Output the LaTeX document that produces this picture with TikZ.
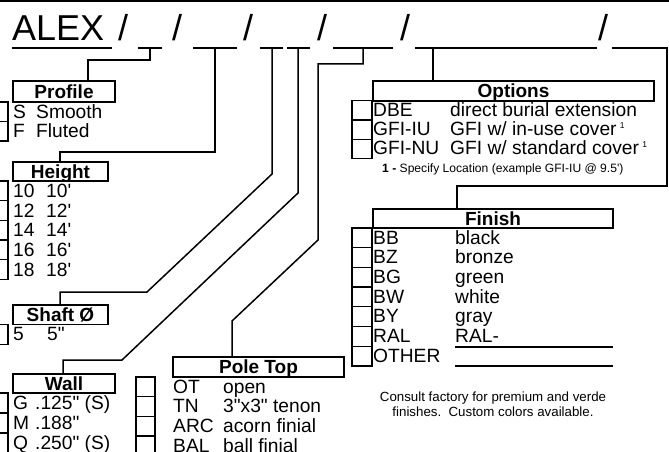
\documentclass[tikz,border=0pt]{standalone}
\usepackage{fontspec}
\setmainfont{Liberation Sans}
\newcommand\ftq{\textquotesingle}
\newcommand\inq{\textquotedbl}
\begin{document}
\begin{tikzpicture}[x=1pt,y=-1pt,
  ln/.style={line width=1.5pt},
  cb/.style={draw,line width=1.3pt,minimum width=20pt,minimum height=19.7pt,inner sep=0pt,outer sep=0pt,anchor=north west},
  hd/.style={draw,line width=1.4pt,inner sep=0pt,outer sep=0pt,anchor=north west,text height=13.6pt,text depth=0pt,font=\fontsize{19}{19}\selectfont\bfseries},
  tx/.style={inner sep=0pt,anchor=base west,font=\fontsize{19.2}{19.2}\selectfont},
  ttl/.style={inner sep=0pt,anchor=base,font=\fontsize{36}{36}\selectfont},
  sm/.style={inner sep=0pt,anchor=base,font=\fontsize{13.3}{13.3}\selectfont},
]
\useasboundingbox (0,0) rectangle (669,452);
\clip (0,0) rectangle (669,452);
\fill[white] (0,0) rectangle (669,452);
% top rule
\draw[line width=1.6pt] (0,0.8) -- (669,0.8);

% title
\node[ttl,anchor=base west] (alex) at (12,41) {ALEX};
\node[ttl] (s1) at (123,41) {/};
\node[ttl] (s2) at (177,41) {/};
\node[ttl] (s3) at (248,41) {/};
\node[ttl] (s4) at (322,41) {/};
\node[ttl] (s5) at (405,41) {/};
\node[ttl] (s6) at (603,41) {/};

% underline segments
\coordinate (u1) at (150,48);
\coordinate (u2) at (215,48);
\coordinate (u3) at (272,48);
\coordinate (u4) at (298,48);
\coordinate (u5) at (363,48);
\coordinate (u6) at (433,48);
\coordinate (u7) at (667,48);
\draw[ln] (12,48) -- (112,48);
\draw[ln] (138,48) -- (162,48);
\draw[ln] (193,48) -- (237,48);
\draw[ln] (260,48) -- (283,48);
\draw[ln] (287,48) -- (310,48);
\draw[ln] (333,48) -- (393,48);
\draw[ln] (415,48) -- (597,48);

% header boxes
\node[hd,minimum width=102pt,minimum height=21pt] (profile) at (13,81) {Profile};
\node[hd,minimum width=95pt,minimum height=19pt] (height) at (13,162) {Height};
\node[hd,minimum width=95pt,minimum height=19.5pt] (shaft) at (13,305) {Shaft Ø};
\node[hd,minimum width=102pt,minimum height=19pt] (wall) at (13,374) {Wall};
\node[hd,minimum width=171pt,minimum height=20pt] (poletop) at (173,357) {Pole Top};
\node[hd,minimum width=281pt,minimum height=20pt] (options) at (373,81) {Options};
\node[hd,minimum width=240pt,minimum height=19pt] (finish) at (373,209) {Finish};

% connectors
\draw[ln] (u1) -- (150,60) -| ([xshift=75pt]profile.north west);
\draw[ln] (u2) -- (215,152) -| ([xshift=47pt]height.north west);
\draw[ln] (u3) -- (272,174) -- (147,292) -| ([xshift=47pt]shaft.north west);
\draw[ln] (u4) -- (298,193) -- (122,360) -| ([xshift=50pt]wall.north west);
\draw[ln] (u5) -- (363,64) -- (318,64) -- (318,240) -- (232,321) -- ([xshift=59pt]poletop.north west);
\draw[ln] (u6) -- ([xshift=60pt]options.north west);
\draw[ln] (612,48) -- (u7) -- (667,186) -| ([xshift=84pt]finish.north west);

% Profile
\foreach \i in {1,2} \node[cb,minimum height=19.5pt] (pcb\i) at (-12,{102+19.5*(\i-1)}) {};
\node[tx] (pc1) at (13,118) {S};
\node[tx] (pd1) at (36,118) {Smooth};
\node[tx] (pc2) at (13,137) {F};
\node[tx] (pd2) at (36,137) {Fluted};

% Height
\foreach \i in {1,...,5} \node[cb] (hcb\i) at (-12,{181+19.7*(\i-1)}) {};
\foreach \c [count=\i] in {10,12,14,16,18} {
  \node[tx] (hc\i) at (13,{197.3+19.7*(\i-1)}) {\c};
  \node[tx] (hd\i) at (46,{197.3+19.7*(\i-1)}) {\c\ftq};
}

% Shaft
\node[cb,minimum height=20pt] (scb1) at (-12,324.5) {};
\node[tx] (sc1) at (13,340.5) {5};
\node[tx] (sd1) at (47,340.5) {5\inq};

% Wall
\foreach \i in {1,...,4} \node[cb,minimum height=20pt] (wcb\i) at (-12,{393+20*(\i-1)}) {};
\node[tx] (wc1) at (13,409) {G};
\node[tx] (wd1) at (35,409) {.125\inq{} (S)};
\node[tx] (wc2) at (13,429) {M};
\node[tx] (wd2) at (35,429) {.188\inq};
\node[tx] (wc3) at (13,449) {Q};
\node[tx] (wd3) at (35,449) {.250\inq{} (S)};

% Pole Top
\foreach \i in {1,...,5} \node[cb,minimum width=19pt] (tcb\i) at (136,{377+19.7*(\i-1)}) {};
\node[tx] (tc1) at (173,393) {OT};
\node[tx] (td1) at (223,393) {open};
\node[tx] (tc2) at (173,412.7) {TN};
\node[tx] (td2) at (223,412.7) {3\inq x3\inq{} tenon};
\node[tx] (tc3) at (173,432.4) {ARC};
\node[tx] (td3) at (223,432.4) {acorn finial};
\node[tx] (tc4) at (173,452.1) {BAL};
\node[tx] (td4) at (223,452.1) {ball finial};

% Options
\foreach \i in {1,2,3} \node[cb,minimum height=19.4pt] (ocb\i) at (352,{100.5+19.4*(\i-1)}) {};
\node[tx] (oc1) at (373,116) {DBE};
\node[tx] (od1) at (450,116) {direct burial extension};
\node[tx] (oc2) at (373,135) {GFI-IU};
\node[tx] (od2) at (450,135) {GFI w/ in-use cover\,\raisebox{7pt}{\fontsize{8.5}{8.5}\selectfont 1}};
\node[tx] (oc3) at (373,154) {GFI-NU};
\node[tx] (od3) at (450,154) {GFI w/ standard cover\,\raisebox{7pt}{\fontsize{8.5}{8.5}\selectfont 1}};
\node[sm,anchor=base west,font=\fontsize{12.1}{12.1}\selectfont] (fn) at (382,172) {\textbf{1 -} Specify Location (example GFI-IU @ 9.5\ftq)};

% Finish
\foreach \i in {1,...,7} \node[cb] (fcb\i) at (352,{228+19.7*(\i-1)}) {};
\foreach \c/\d [count=\i] in {BB/black,BZ/bronze,BG/green,BW/white,BY/gray,RAL/RAL-,OTHER/{}} {
  \node[tx] (fc\i) at (373,{244+19.7*(\i-1)}) {\c};
  \node[tx] (fd\i) at (455,{244+19.7*(\i-1)}) {\d};
}
\draw[line width=1.2pt] (455,347) -- (613,347);
\draw[line width=1.2pt] (455,366) -- (613,366);

% note
\node[sm] (n1) at (493,401.5) {Consult factory for premium and verde};
\node[sm] (n2) at (493,416.5) {finishes.\ \ Custom colors available.};
\end{tikzpicture}
\end{document}
